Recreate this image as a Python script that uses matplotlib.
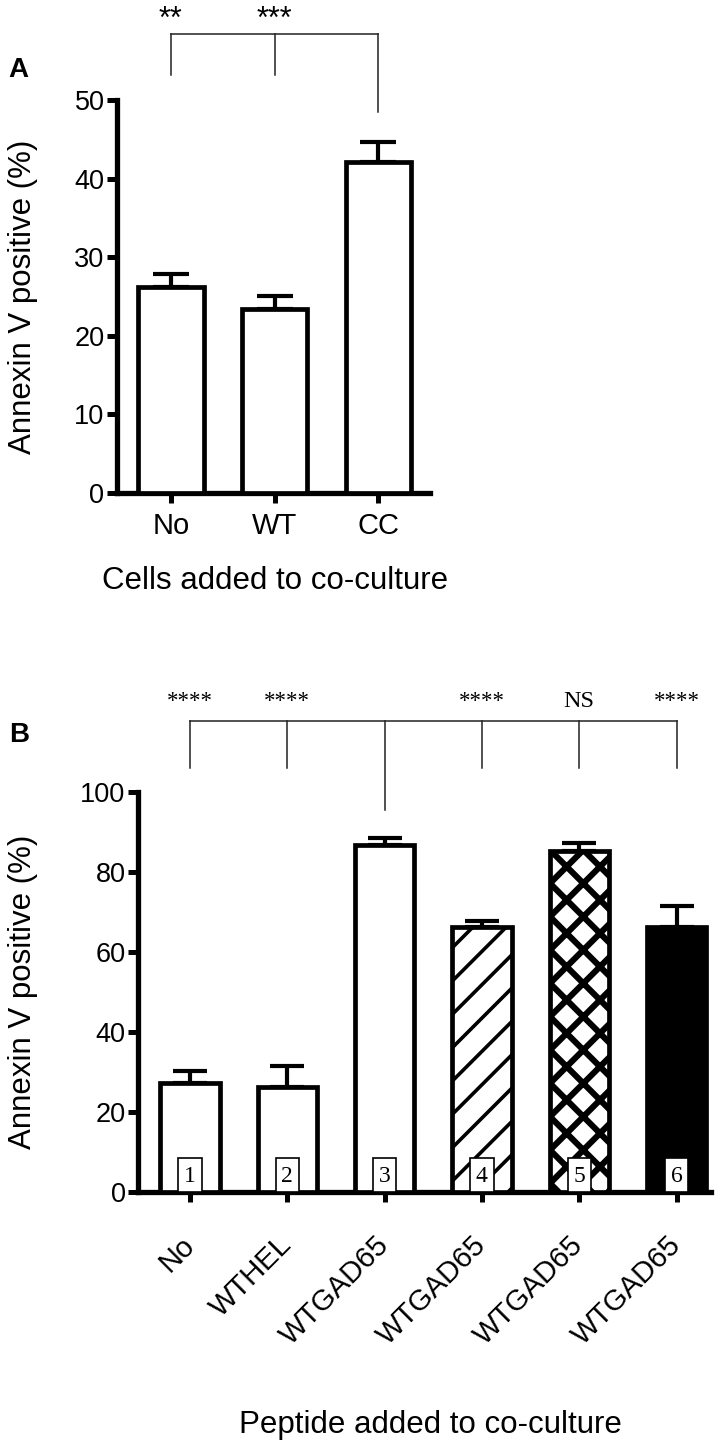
import matplotlib
matplotlib.use('Agg')
import matplotlib.pyplot as plt
import numpy as np

# panel A: cells added to co-culture
cells = ['No', 'WT', 'CC']
cells_mean = [26.2, 23.4, 42.1]
cells_err = [1.7, 1.7, 2.6]
cells_sig = ['**', '***']

# panel B: peptide added to co-culture
peptides = ['No', 'WTHEL', 'WTGAD65', 'WTGAD65', 'WTGAD65', 'WTGAD65']
pep_mean = [27.2, 26.3, 86.7, 66.3, 85.2, 66.3]
pep_err = [3.1, 5.2, 1.8, 1.4, 2.0, 5.2]
pep_ids = ['1', '2', '3', '4', '5', '6']
pep_sig = ['****', '****', '', '****', 'NS', '****']

plt.rcParams['font.family'] = 'Liberation Sans'
plt.rcParams['hatch.linewidth'] = 2.6

W, H = 725, 1446
fig = plt.figure(figsize=(W / 100, H / 100), dpi=100)


def px_box(l, t, r, b):
    return [l / W, 1 - b / H, (r - l) / W, (b - t) / H]


def style(ax):
    for s in ['top', 'right']:
        ax.spines[s].set_visible(False)
    for s in ['left', 'bottom']:
        ax.spines[s].set_linewidth(3.8)
        ax.spines[s].set_capstyle('projecting')
    ax.tick_params(width=3.6, length=7, labelsize=19.5, pad=2)
    ax.tick_params(axis='x', labelsize=21)


# ---- panel A ----
axA = fig.add_axes(px_box(117, 100, 430, 493))
style(axA)
xa = np.arange(len(cells))
axA.bar(xa, cells_mean, width=0.63, color='white', edgecolor='black',
        linewidth=3.4, zorder=3)
axA.errorbar(xa, cells_mean, yerr=[np.zeros(len(xa)), cells_err], fmt='none',
             ecolor='black', elinewidth=3, capsize=13, capthick=3, zorder=2)
axA.set_xlim(-0.52, 2.5)
axA.set_ylim(0, 50)
axA.set_yticks(np.arange(0, 51, 10))
axA.set_xticks(xa)
axA.set_xticklabels(cells)
axA.tick_params(axis='x', pad=7)
axA.set_ylabel('Annexin V positive (%)', fontsize=22.5)
axA.yaxis.set_label_coords(-0.252, 0.5)
axA.set_xlabel('Cells added to co-culture', fontsize=22.5)
axA.xaxis.set_label_coords(0.505, -0.186)

# significance bracket A
ytop = 58.4
axA.plot([xa[0], xa[-1]], [ytop, ytop], color='#222222', lw=1.1, clip_on=False)
for xi, yb in zip(xa, [53.2, 53.2, 48.5]):
    axA.plot([xi, xi], [yb, ytop], color='#222222', lw=1.1, clip_on=False)
for xi, s in zip(xa[:2], cells_sig):
    axA.text(xi, 59.2, s, ha='center', va='baseline', fontsize=22)

fig.text(8 / W, 1 - 77 / H, 'A', fontsize=20, fontweight='bold',
         ha='left', va='baseline')

# ---- panel B ----
axB = fig.add_axes(px_box(138, 792, 711, 1192))
style(axB)
xb = np.arange(len(peptides))
faces = ['white', 'white', 'white', 'white', 'white', 'black']
hatches = ['', '', '', '/', 'x', '']
hatch_lw = [2.6, 2.6, 2.6, 2.6, 4.4, 2.6]
bars = axB.bar(xb, pep_mean, width=0.61, color=faces, edgecolor='black',
               linewidth=3.4, zorder=3)
for b, h, lw in zip(bars, hatches, hatch_lw):
    b.set_hatch(h)
    if hasattr(b, 'set_hatch_linewidth'):
        b.set_hatch_linewidth(lw)
axB.errorbar(xb, pep_mean, yerr=[np.zeros(len(xb)), pep_err], fmt='none',
             ecolor='black', elinewidth=3, capsize=12.5, capthick=3, zorder=2)

# numbered boxes at the base of each bar
axB.bar(xb, [8.5] * len(xb), width=0.24, color='white', edgecolor='black',
        linewidth=1.2, zorder=4)
for xi, lab in zip(xb, pep_ids):
    axB.text(xi, 4.0, lab, ha='center', va='center', fontsize=17,
             family='Liberation Serif', zorder=5)

axB.set_xlim(-0.534, 5.354)
axB.set_ylim(0, 100)
axB.set_yticks(np.arange(0, 101, 20))
axB.set_xticks(xb)
axB.set_xticklabels(peptides, rotation=45, ha='right', va='center',
                    rotation_mode='anchor')
axB.tick_params(axis='x', pad=28)
axB.set_ylabel('Annexin V positive (%)', fontsize=22.5)
axB.yaxis.set_label_coords(-0.1745, 0.5)
axB.set_xlabel('Peptide added to co-culture', fontsize=22.5)
axB.xaxis.set_label_coords(0.511, -0.545)

# significance bracket B
ytopB = 117.75
axB.plot([xb[0], xb[-1]], [ytopB, ytopB], color='#222222', lw=1.1, clip_on=False)
for xi in xb:
    yb = 95.5 if xi == 2 else 106
    axB.plot([xi, xi], [yb, ytopB], color='#222222', lw=1.1, clip_on=False)
for xi, s in zip(xb, pep_sig):
    if s:
        axB.text(xi, 121.3, s, ha='center', va='baseline',
                 fontsize=17.5 if s == 'NS' else 16.5,
                 family='Liberation Serif')

fig.text(9 / W, 1 - 742 / H, 'B', fontsize=20, fontweight='bold',
         ha='left', va='baseline')

fig.savefig('out.png', dpi=100)
